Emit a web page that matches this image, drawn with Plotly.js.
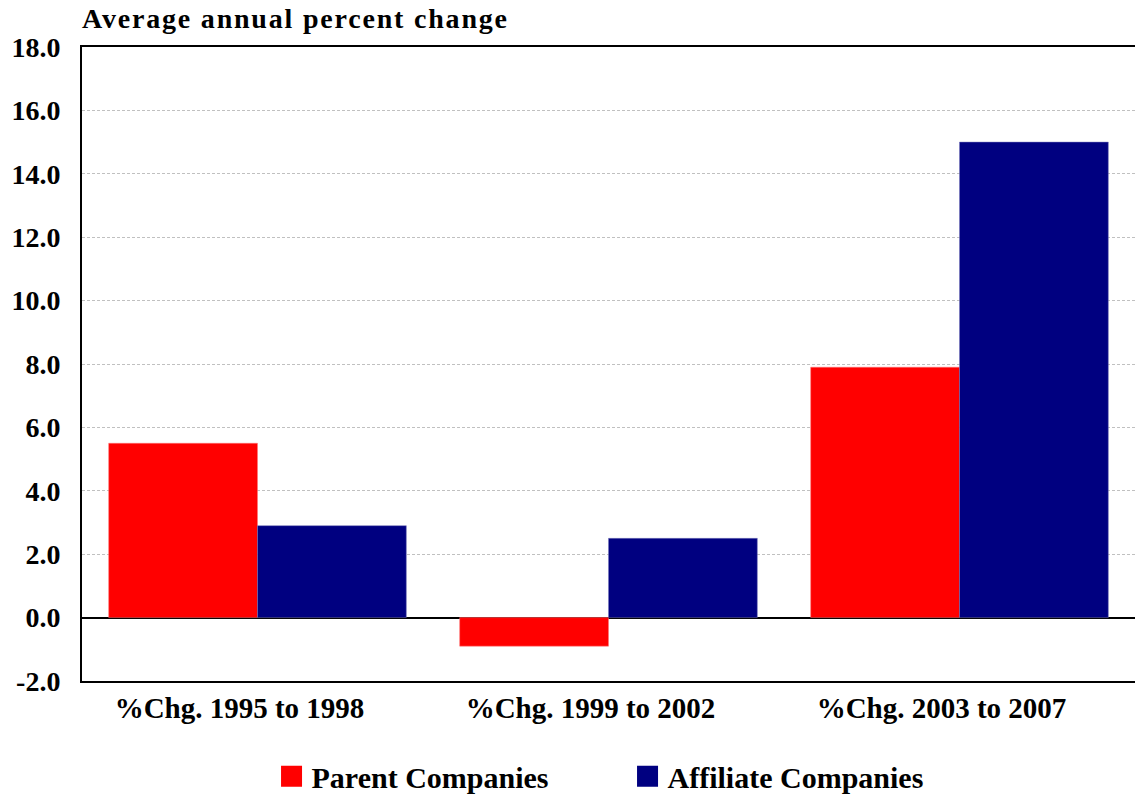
<!DOCTYPE html>
<html>
<head>
<meta charset="utf-8">
<script src="https://cdn.plot.ly/plotly-3.0.1.min.js"></script>
<style>
html,body{margin:0;padding:0;background:#fff;}
#chart{width:1135px;height:797px;}
#chart .gtitle{letter-spacing:1.8px;}
</style>
</head>
<body>
<div id="chart"></div>
<script>
const categories = ["%Chg. 1995 to 1998", "%Chg. 1999 to 2002", "%Chg. 2003 to 2007"];
const parentValues = [5.5, -0.9, 7.9];
const affiliateValues = [2.9, 2.5, 15.0];
const seriesNames = ["Parent Companies", "Affiliate Companies"];
const seriesColors = ["#ff0000", "#000080"];
const yTickVals = [-2, 0, 2, 4, 6, 8, 10, 12, 14, 16, 18];
const yTickText = ["-2.0", "0.0", "2.0", "4.0", "6.0", "8.0", "10.0", "12.0", "14.0", "16.0", "18.0"];

const FONT = "Liberation Serif, Times New Roman, serif";

const traces = [
  {type: "bar", name: seriesNames[0], x: categories, y: parentValues, showlegend: false,
   marker: {color: seriesColors[0], line: {color: "#ff7777", width: 0.5}}},
  {type: "bar", name: seriesNames[1], x: categories, y: affiliateValues, showlegend: false,
   marker: {color: seriesColors[1], line: {color: "#7777bb", width: 0.5}}},
  // legend-only entries (larger square swatches)
  {type: "scatter", mode: "markers", name: "<b>" + seriesNames[0] + "</b>", x: [null], y: [null],
   marker: {symbol: "square", size: 16, color: seriesColors[0], line: {color: seriesColors[0], width: 5}}, hoverinfo: "skip"},
  {type: "scatter", mode: "markers", name: "<b>" + seriesNames[1] + "</b>", x: [null], y: [null],
   marker: {symbol: "square", size: 16, color: seriesColors[1], line: {color: seriesColors[1], width: 5}}, hoverinfo: "skip"}
];

const layout = {
  width: 1135, height: 797,
  margin: {l: 82, r: 0, t: 47, b: 116, autoexpand: false},
  paper_bgcolor: "#fff", plot_bgcolor: "#fff",
  barmode: "group", bargap: 0.152, bargroupgap: 0,
  font: {family: FONT, color: "#000", size: 28},
  title: {text: "<b>Average annual percent change</b>", x: 0, xref: "paper", xanchor: "left",
          y: 0.977, yref: "container", yanchor: "middle", font: {family: FONT, size: 28, color: "#000"}},
  showlegend: true,
  legend: {orientation: "h", x: 0.18, xanchor: "left", xref: "paper",
           y: 0.026, yref: "container", yanchor: "middle",
           font: {family: FONT, size: 30, color: "#000"}, itemwidth: 30,
           entrywidth: 311, entrywidthmode: "pixels", traceorder: "normal", bgcolor: "rgba(0,0,0,0)"},
  xaxis: {type: "category", showline: true, linecolor: "#000", linewidth: 2, mirror: true,
          ticks: "", tickfont: {family: FONT, size: 29, color: "#000"}, fixedrange: true,
          ticklabelshift: -18, ticklabelstandoff: 0,
          tickprefix: "<b>", ticksuffix: "</b>", categoryorder: "array", categoryarray: categories},
  yaxis: {range: [-2, 18], tickvals: yTickVals, ticktext: yTickText.map(t => "<b>" + t + "</b>"),
          showline: true, linecolor: "#000", linewidth: 2, ticks: "",
          showgrid: true, gridcolor: "#c0c0c0", gridwidth: 1, griddash: "3px,2px",
          zeroline: true, zerolinecolor: "#000", zerolinewidth: 2,
          tickfont: {family: FONT, size: 28, color: "#000"}, ticklabelstandoff: 14}
};

Plotly.newPlot("chart", traces, layout, {displayModeBar: false, staticPlot: true});
</script>
</body>
</html>
